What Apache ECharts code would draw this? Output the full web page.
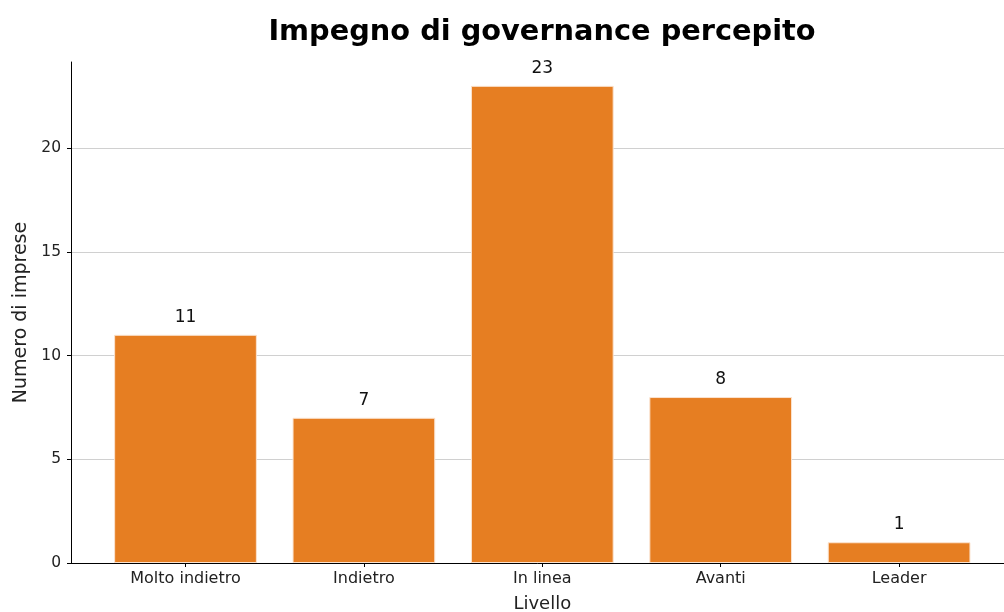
<!DOCTYPE html>
<html>
<head>
<meta charset="utf-8">
<script src="https://cdn.jsdelivr.net/npm/echarts@6/dist/echarts.min.js"></script>
<style>
  html, body { margin: 0; padding: 0; background: #fff; }
  #chart { width: 1004px; height: 612px; }
</style>
</head>
<body>
<div id="chart"></div>
<script>
// Perceived governance commitment: number of companies per level
const categories = ['Molto indietro', 'Indietro', 'In linea', 'Avanti', 'Leader'];
const counts = [11, 7, 23, 8, 1];
const yTicks = [0, 5, 10, 15, 20];

const FONT = 'DejaVu Sans';
const Y_MAX = 24.15;
const BAR_COLOR = '#e67e22';

const chart = echarts.init(document.getElementById('chart'), null, { renderer: 'canvas' });

chart.setOption({
  animation: false,
  backgroundColor: '#ffffff',
  title: {
    text: 'Impegno di governance percepito',
    left: 537,
    textAlign: 'center',
    top: 13,
    textStyle: { fontFamily: FONT, fontWeight: 'bold', fontSize: 28.8, color: '#000' }
  },
  grid: [
    // frame: y axis, gridlines, baseline
    { left: 71, right: -9, top: 62, bottom: 49, outerBoundsMode: 'none', containLabel: false },
    // bars and category labels
    { left: 96.3, right: 15.7, top: 62, bottom: 49, outerBoundsMode: 'none', containLabel: false }
  ],
  xAxis: [
    {
      gridIndex: 0,
      type: 'value',
      min: 0, max: 1,
      axisLine: { show: true, lineStyle: { color: '#000', width: 1 } },
      axisTick: { show: false },
      axisLabel: { show: false },
      splitLine: { show: false }
    },
    {
      gridIndex: 1,
      type: 'category',
      data: categories,
      name: 'Livello',
      nameLocation: 'middle',
      nameGap: 32,
      nameTextStyle: { fontFamily: FONT, fontSize: 18, color: '#222' },
      axisLine: { show: false },
      axisTick: { show: true, alignWithLabel: true, length: 4, lineStyle: { color: '#000' } },
      axisLabel: { fontFamily: FONT, fontSize: 16, color: '#222', margin: 8 },
      splitLine: { show: false }
    }
  ],
  yAxis: [
    {
      gridIndex: 0,
      type: 'value',
      min: 0, max: Y_MAX, interval: 5,
      name: 'Numero di imprese',
      nameLocation: 'middle',
      nameGap: 40,
      nameTextStyle: { fontFamily: FONT, fontSize: 19, color: '#222' },
      axisLine: { show: true, lineStyle: { color: '#000', width: 1 } },
      axisTick: { show: true, length: 4, customValues: yTicks, lineStyle: { color: '#000' } },
      axisLabel: {
        fontFamily: FONT, fontSize: 15.5, color: '#222', margin: 10,
        customValues: yTicks,
        formatter: v => (yTicks.includes(v) ? String(v) : '')
      },
      splitLine: { show: true, showMinLine: false, showMaxLine: true, lineStyle: { color: '#d0d0d0', width: 1 } }
    },
    {
      gridIndex: 1,
      type: 'value',
      min: 0, max: Y_MAX, interval: 5,
      axisLine: { show: false },
      axisTick: { show: false },
      axisLabel: { show: false },
      splitLine: { show: false }
    }
  ],
  series: [
    {
      type: 'bar',
      xAxisIndex: 1,
      yAxisIndex: 1,
      data: counts,
      barWidth: '80%',
      itemStyle: { color: BAR_COLOR, borderColor: '#fbe3cf', borderWidth: 1 },
      label: {
        show: true,
        position: 'top',
        distance: 9,
        fontFamily: FONT,
        fontSize: 17,
        color: '#111'
      }
    }
  ]
});
</script>
</body>
</html>
